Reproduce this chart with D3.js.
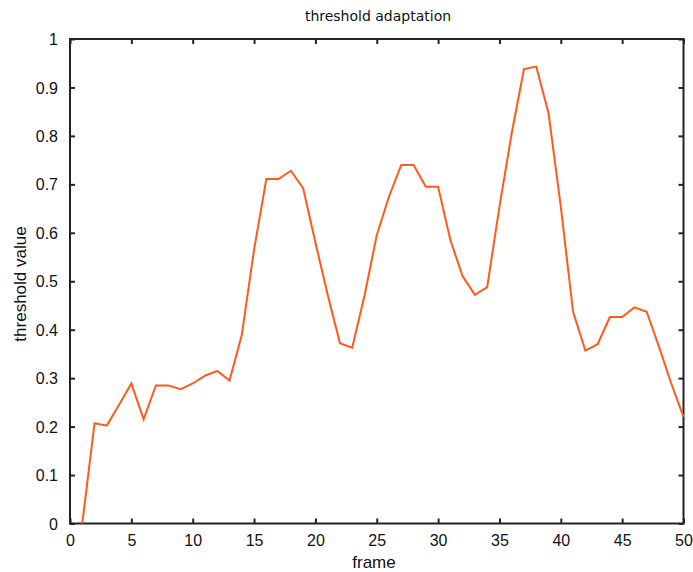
<!DOCTYPE html>
<html>
<head>
<meta charset="utf-8">
<script src="https://cdn.jsdelivr.net/npm/d3@7"></script>
<style>
  body { margin: 0; background: #fff; }
  text { fill: #111; }
</style>
</head>
<body>
<svg id="chart" width="693" height="572"></svg>
<script>
const frames = d3.range(1, 51);
const thresholds = [
  0.0, 0.207, 0.202, 0.245, 0.289, 0.215, 0.285, 0.285, 0.277, 0.289,
  0.305, 0.315, 0.295, 0.389, 0.565, 0.711, 0.711, 0.728, 0.692, 0.58,
  0.472, 0.372, 0.363, 0.47, 0.595, 0.675, 0.740, 0.740, 0.695, 0.695,
  0.585, 0.51, 0.472, 0.488, 0.654, 0.806, 0.938, 0.943, 0.847, 0.654,
  0.437, 0.357, 0.37, 0.426, 0.426, 0.446, 0.437, 0.365, 0.289, 0.22
];
const xTicks = d3.range(0, 51, 5);
const yTicks = d3.range(0, 11).map(d => d / 10);

const svg = d3.select('#chart');

const x = d3.scaleLinear().domain([0, 50]).range([70, 683.5]);
const y = d3.scaleLinear().domain([0, 1]).range([523.5, 39]);

const font = 'Arial, "Liberation Sans", sans-serif';

// box
svg.append('rect')
  .attr('x', x(0)).attr('y', y(1))
  .attr('width', x(50) - x(0)).attr('height', y(0) - y(1))
  .attr('fill', 'none').attr('stroke', '#222').attr('stroke-width', 2);

// ticks inward on all sides
const fmt = d => d === 0 || d === 1 ? String(d) : d3.format('.1f')(d);

const gx = svg.append('g').attr('transform', `translate(0,${y(0)})`)
  .call(d3.axisBottom(x).tickValues(xTicks).tickSizeInner(-5).tickSizeOuter(0).tickPadding(11));
const gxTop = svg.append('g').attr('transform', `translate(0,${y(1)})`)
  .call(d3.axisTop(x).tickValues(xTicks).tickSizeInner(-5).tickSizeOuter(0).tickFormat(''));
const gy = svg.append('g').attr('transform', `translate(${x(0)},0)`)
  .call(d3.axisLeft(y).tickValues(yTicks).tickSizeInner(-5).tickSizeOuter(0).tickPadding(12).tickFormat(fmt));
const gyRight = svg.append('g').attr('transform', `translate(${x(50)},0)`)
  .call(d3.axisRight(y).tickValues(yTicks).tickSizeInner(-5).tickSizeOuter(0).tickFormat(''));

[gx, gxTop, gy, gyRight].forEach(g => {
  g.select('.domain').remove();
  g.selectAll('line').attr('stroke', '#222').attr('stroke-width', 2);
  g.selectAll('text').attr('font-family', font).attr('font-size', '16px').attr('fill', '#111');
});
gy.selectAll('text').attr('dy', '0.35em');

// line
const line = d3.line()
  .x((d, i) => x(frames[i]))
  .y(d => y(d));

svg.append('path')
  .datum(thresholds)
  .attr('d', line)
  .attr('fill', 'none')
  .attr('stroke', '#ff5a1e')
  .attr('stroke-width', 2);

// labels
svg.append('text')
  .attr('x', 378).attr('y', 21)
  .attr('text-anchor', 'middle')
  .attr('font-family', '"DejaVu Sans", Verdana, sans-serif')
  .attr('font-size', '14px')
  .text('threshold adaptation');

svg.append('text')
  .attr('x', 374).attr('y', 568)
  .attr('text-anchor', 'middle')
  .attr('font-family', font)
  .attr('font-size', '17px')
  .text('frame');

svg.append('text')
  .attr('transform', 'translate(26,284) rotate(-90)')
  .attr('text-anchor', 'middle')
  .attr('font-family', font)
  .attr('font-size', '17px')
  .text('threshold value');
</script>
</body>
</html>
